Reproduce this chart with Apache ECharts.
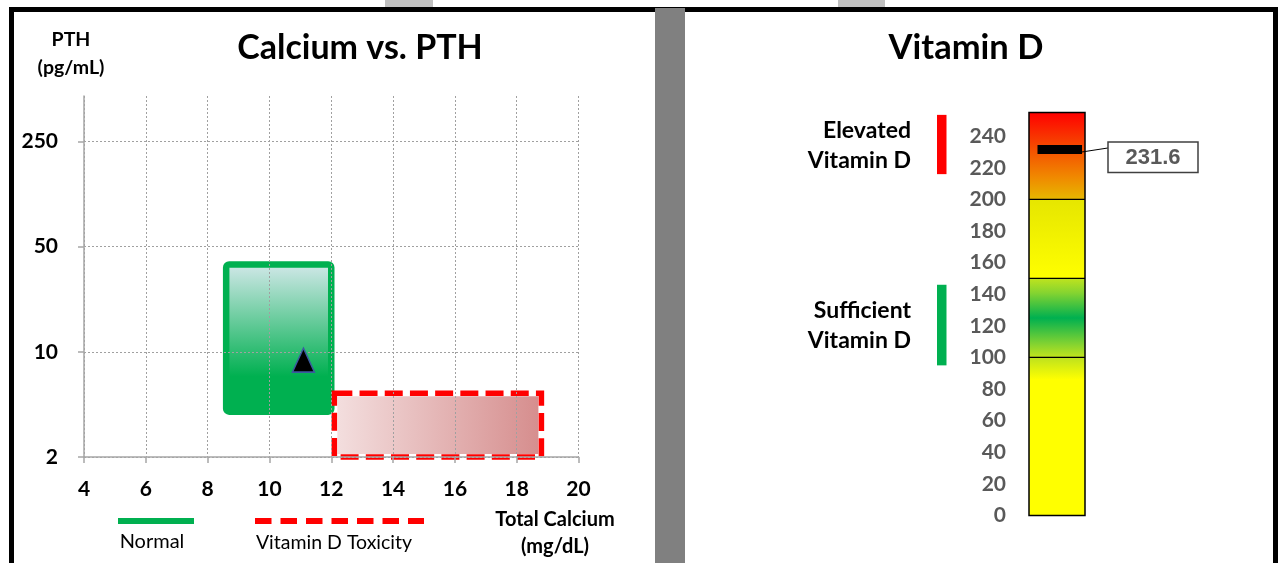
<!DOCTYPE html>
<html>
<head>
<meta charset="utf-8">
<script src="https://cdn.jsdelivr.net/npm/echarts@6/dist/echarts.min.js"></script>
<style>
html, body { margin: 0; padding: 0; background: #fff; }
#main { width: 1278px; height: 563px; }
</style>
</head>
<body>
<div id="main"></div>
<script>
// calcium vs PTH panel
var calciumMin = 4;
var calciumMax = 20;
var pthTicks = [2, 10, 50, 250];
var pthMax = 500;
var normalCalcium = [8.6, 12.0];
var normalPth = [4, 38];
var toxicCalcium = [12.1, 18.8];
var toxicPth = [2, 5.3];
var patientCalcium = [11.1];
var patientPth = [8.8];

// vitamin D panel
var vitDCategory = ['Vitamin D'];
var vitDBands = [100, 50, 50, 55];   // stacked 0-100, 100-150, 150-200, 200-255
var vitDMax = 255;
var vitDValue = [231.6];
var rangeNames = ['Elevated\nVitamin D', 'Sufficient\nVitamin D'];
var rangeLow = [216, 95];
var rangeHigh = [253.5, 146];

// PTH axis goes up by factor 5 per tick (2, 10, 50, 250)
function pthPos(v) {
    return Math.log(v / pthTicks[0]) / Math.log(5);
}

var FONT = 'Lato';

function boxItem(params, api) {
    var p0 = api.coord([api.value(0), api.value(3)]);
    var p1 = api.coord([api.value(1), api.value(2)]);
    var w = p1[0] - p0[0], h = p1[1] - p0[1];
    if (params.dataIndex === 0) {
        return {
            type: 'rect',
            shape: { x: p0[0], y: p0[1], width: w, height: h, r: 3 },
            style: {
                fill: new echarts.graphic.LinearGradient(0, 0, 0, 1, [
                    { offset: 0, color: '#d6e9ec' },
                    { offset: 0.75, color: '#00b050' },
                    { offset: 1, color: '#00b050' }
                ]),
                stroke: '#00b050',
                lineWidth: 6.5
            }
        };
    }
    return {
        type: 'group',
        children: [
            {
                type: 'rect',
                shape: { x: p0[0] + 3, y: p0[1] + 3, width: w - 6, height: h - 6 },
                style: {
                    fill: new echarts.graphic.LinearGradient(0, 0, 1, 0, [
                        { offset: 0, color: '#f3dede' },
                        { offset: 1, color: '#d68e8e' }
                    ])
                }
            },
            {
                type: 'rect',
                shape: { x: p0[0], y: p0[1], width: w, height: h },
                style: { fill: 'none', stroke: '#ff0000', lineWidth: 5.5, lineDash: [18, 7.2] }
            }
        ]
    };
}

// outline of the vitamin D bar with a line at every band edge
function outlineItem(params, api) {
    var bw = api.size([1, 0])[0];
    var c = api.coord([api.value(0), api.value(1)]);
    var left = c[0] - bw / 2;
    if (params.dataIndex === 0) {
        var top = api.coord([api.value(0), vitDMax]);
        return {
            type: 'rect',
            shape: { x: left, y: top[1], width: bw, height: c[1] - top[1] },
            style: { fill: 'none', stroke: '#000', lineWidth: 1.5 }
        };
    }
    return {
        type: 'line',
        shape: { x1: left, y1: c[1], x2: left + bw, y2: c[1] },
        style: { stroke: '#000', lineWidth: 1.3 }
    };
}

function markerItem(params, api) {
    var c = api.coord([api.value(0), api.value(1)]);
    var bw = api.size([1, 0])[0];
    var left = c[0] - bw / 2, right = c[0] + bw / 2;
    var bx = right + 23, by = c[1] - 7.5;
    return {
        type: 'group',
        children: [
            { type: 'rect', shape: { x: left + 8.5, y: c[1] - 4.5, width: bw - 11.5, height: 9 }, style: { fill: '#000' } },
            { type: 'line', shape: { x1: right - 3, y1: c[1] + 2.5, x2: bx, y2: c[1] - 1.5 }, style: { stroke: '#000', lineWidth: 1 } },
            { type: 'rect', shape: { x: bx, y: by, width: 90, height: 30.5 }, style: { fill: '#fff', stroke: '#404040', lineWidth: 1.5 } },
            {
                type: 'text', x: bx + 45, y: by + 16,
                style: {
                    text: String(api.value(1)), font: 'bold 22px "Liberation Sans"', fill: '#595959',
                    textAlign: 'center', textVerticalAlign: 'middle'
                }
            }
        ]
    };
}

function rangeItem(params, api) {
    var top = api.coord([api.value(0), api.value(2)]);
    var bot = api.coord([api.value(0), api.value(1)]);
    var bw = api.size([1, 0])[0];
    var left = top[0] - bw / 2;
    var colors = ['#ff0000', '#00b050'];
    return {
        type: 'group',
        children: [
            {
                type: 'rect',
                shape: { x: left - 92, y: top[1], width: 9.5, height: bot[1] - top[1] },
                style: { fill: colors[params.dataIndex] }
            },
            {
                type: 'text', x: left - 118, y: (top[1] + bot[1]) / 2 + 1,
                style: {
                    text: rangeNames[params.dataIndex], font: 'bold 23px ' + FONT, fill: '#000',
                    textAlign: 'right', textVerticalAlign: 'middle', lineHeight: 30
                }
            }
        ]
    };
}

var bandColors = [
    [{ offset: 0, color: '#bde21e' }, { offset: 0.14, color: '#ffff00' }, { offset: 1, color: '#ffff00' }],
    [{ offset: 0, color: '#bfe31e' }, { offset: 0.18, color: '#86d430' }, { offset: 0.5, color: '#00b050' },
     { offset: 0.82, color: '#7fd232' }, { offset: 1, color: '#c2e41c' }],
    [{ offset: 0, color: '#e6e600' }, { offset: 1, color: '#ffff00' }],
    [{ offset: 0, color: '#ff0000' }, { offset: 0.45, color: '#f45400' }, { offset: 0.75, color: '#f08a00' },
     { offset: 1, color: '#e6b800' }]
];

var bandSeries = [];
var bandEdges = [[0, 0]];
var acc = 0;
for (var i = 0; i < vitDBands.length; i++) {
    bandSeries.push({
        type: 'bar',
        xAxisIndex: 1,
        yAxisIndex: 1,
        stack: 'vd',
        barWidth: '100%',
        data: [vitDBands[i]],
        itemStyle: { color: new echarts.graphic.LinearGradient(0, 0, 0, 1, bandColors[i]) },
        silent: true
    });
    acc += vitDBands[i];
    if (i < vitDBands.length - 1) bandEdges.push([0, acc]);
}

var chart = echarts.init(document.getElementById('main'));
var option = {
    animation: false,
    backgroundColor: '#fff',
    grid: [
        { left: 84, top: 96, width: 494.5, height: 361 },
        { left: 1029, top: 112.5, width: 56, height: 403 }
    ],
    xAxis: [
        {
            type: 'value', gridIndex: 0, min: calciumMin, max: calciumMax, interval: 2, z: 3,
            axisLine: { lineStyle: { color: '#a6a6a6', width: 1.5 } },
            axisTick: { show: true, length: 6, lineStyle: { color: '#a6a6a6', width: 1.5 } },
            axisLabel: { color: '#000', fontFamily: FONT, fontWeight: 'bold', fontSize: 21, margin: 22 },
            splitLine: { show: true, lineStyle: { color: '#a0a0a0', width: 1, type: [2, 2] } }
        },
        {
            type: 'category', gridIndex: 1, data: vitDCategory, show: false
        }
    ],
    yAxis: [
        {
            type: 'value', gridIndex: 0, min: 0, max: pthPos(pthMax), interval: 1, z: 3,
            axisLine: { show: true, lineStyle: { color: '#a6a6a6', width: 1.5 } },
            axisTick: { show: true, length: 6, customValues: [0, 1, 2, 3], lineStyle: { color: '#a6a6a6', width: 1.5 } },
            axisLabel: {
                color: '#000', fontFamily: FONT, fontWeight: 'bold', fontSize: 21, margin: 26,
                customValues: [0, 1, 2, 3],
                formatter: function (v) {
                    var r = Math.round(v);
                    if (Math.abs(v - r) > 1e-6 || r >= pthTicks.length) return '';
                    return String(pthTicks[r]);
                }
            },
            splitLine: {
                show: true,
                lineStyle: { color: ['#a0a0a0', '#a0a0a0', '#a0a0a0', '#a0a0a0', 'rgba(0,0,0,0)'], width: 1, type: [2, 2] }
            }
        },
        {
            type: 'value', gridIndex: 1, min: 0, max: vitDMax, interval: 20,
            axisLine: { show: false }, axisTick: { show: false }, splitLine: { show: false },
            axisLabel: {
                color: '#595959', fontFamily: FONT, fontWeight: 'bold', fontSize: 21, margin: 23,
                showMaxLabel: false
            }
        }
    ],
    series: [
        {
            type: 'custom', xAxisIndex: 0, yAxisIndex: 0, z: 1,
            renderItem: boxItem,
            data: [
                [normalCalcium[0], normalCalcium[1], pthPos(normalPth[0]), pthPos(normalPth[1])],
                [toxicCalcium[0], toxicCalcium[1], pthPos(toxicPth[0]), pthPos(toxicPth[1])]
            ],
            silent: true
        },
        {
            type: 'scatter', xAxisIndex: 0, yAxisIndex: 0, z: 5,
            symbol: 'triangle', symbolSize: [22, 24],
            itemStyle: { color: '#000', borderColor: '#3b5aa0', borderWidth: 1.5, opacity: 1 },
            data: patientCalcium.map(function (c, k) { return [c, pthPos(patientPth[k])]; })
        }
    ].concat(bandSeries).concat([
        {
            type: 'custom', xAxisIndex: 1, yAxisIndex: 1, z: 4,
            renderItem: outlineItem,
            data: bandEdges,
            silent: true
        },
        {
            type: 'custom', xAxisIndex: 1, yAxisIndex: 1, z: 5,
            renderItem: markerItem,
            data: [[0, vitDValue[0]]]
        },
        {
            type: 'custom', xAxisIndex: 1, yAxisIndex: 1, z: 5,
            renderItem: rangeItem,
            encode: { x: 0, y: [1, 2] },
            data: rangeLow.map(function (lo, k) { return [0, lo, rangeHigh[k]]; })
        }
    ]),
    graphic: [
        { type: 'rect', shape: { x: 385, y: 0, width: 48, height: 8 }, style: { fill: '#c0c0c0' } },
        { type: 'rect', shape: { x: 838, y: 0, width: 47, height: 8 }, style: { fill: '#c0c0c0' } },
        { type: 'rect', shape: { x: 9, y: 7, width: 1269, height: 5 }, style: { fill: '#000' } },
        { type: 'rect', shape: { x: 9, y: 7, width: 5, height: 556 }, style: { fill: '#000' } },
        { type: 'rect', shape: { x: 1273, y: 7, width: 5, height: 556 }, style: { fill: '#000' } },
        { type: 'rect', shape: { x: 655, y: 8, width: 30, height: 555 }, style: { fill: '#808080' } },
        {
            type: 'text', x: 360, y: 48,
            style: { text: 'Calcium vs. PTH', font: 'bold 34px ' + FONT, fill: '#000', textAlign: 'center', textVerticalAlign: 'middle' }
        },
        {
            type: 'text', x: 966, y: 48,
            style: { text: 'Vitamin D', font: 'bold 34.5px ' + FONT, fill: '#000', textAlign: 'center', textVerticalAlign: 'middle' }
        },
        {
            type: 'text', x: 71, y: 54,
            style: { text: 'PTH\n(pg/mL)', font: 'bold 19.5px ' + FONT, fill: '#000', textAlign: 'center', textVerticalAlign: 'middle', lineHeight: 28 }
        },
        {
            type: 'text', x: 555, y: 533,
            style: { text: 'Total Calcium\n(mg/dL)', font: 'bold 20px ' + FONT, fill: '#000', textAlign: 'center', textVerticalAlign: 'middle', lineHeight: 27 }
        },
        { type: 'line', shape: { x1: 118, y1: 521, x2: 194, y2: 521 }, style: { stroke: '#00b050', lineWidth: 6 } },
        { type: 'line', shape: { x1: 255, y1: 521, x2: 424, y2: 521 }, style: { stroke: '#ff0000', lineWidth: 6, lineDash: [16.5, 9] } },
        {
            type: 'text', x: 152, y: 542,
            style: { text: 'Normal', font: '20px ' + FONT, fill: '#000', textAlign: 'center', textVerticalAlign: 'middle' }
        },
        {
            type: 'text', x: 334, y: 543,
            style: { text: 'Vitamin D Toxicity', font: '19.5px ' + FONT, fill: '#000', textAlign: 'center', textVerticalAlign: 'middle' }
        }
    ]
};
chart.setOption(option);
</script>
</body>
</html>
